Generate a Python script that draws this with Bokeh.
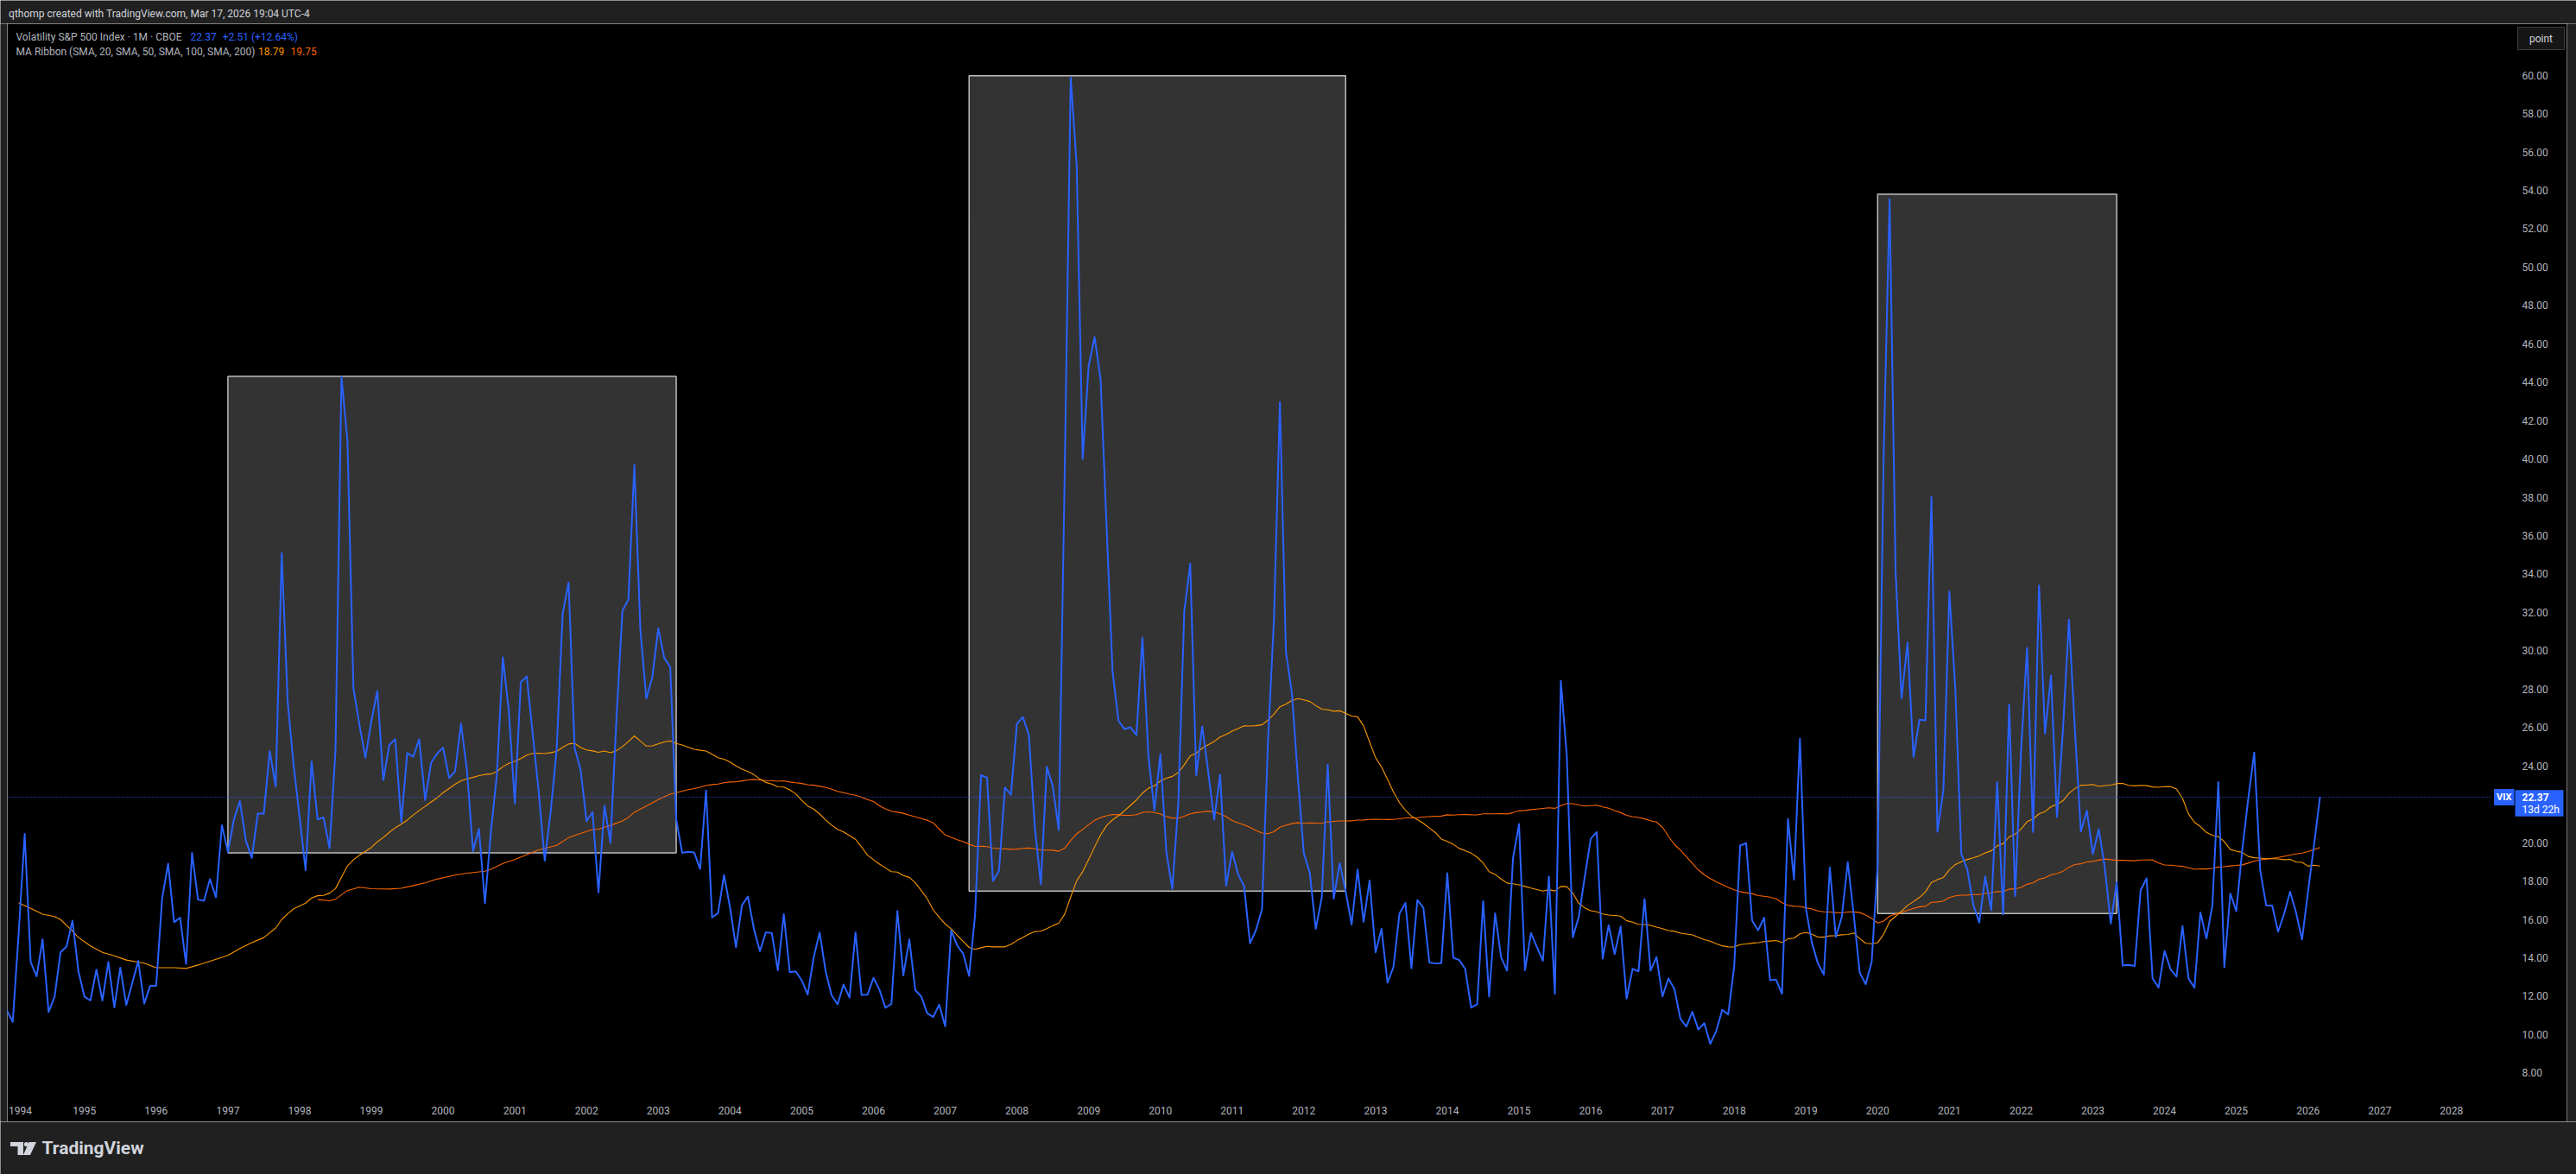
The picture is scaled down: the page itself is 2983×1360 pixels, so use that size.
import pandas as pd
from bokeh.plotting import figure
from bokeh.layouts import column, row
from bokeh.models import Range1d, Label
from bokeh.core.properties import value
from bokeh.embed import file_html
from bokeh.resources import INLINE

# ---------------- data (monthly closes of CBOE:VIX) ----------------
series_start = "1993-12"
vix_1993 = [11.27]
vix_1994 = [10.66, 15.30, 20.45, 13.78, 13.03, 14.96, 11.17, 11.97, 14.28, 14.58, 15.93, 13.28]
vix_1995 = [11.97, 11.77, 13.38, 11.77, 13.78, 11.41, 13.48, 11.53, 12.68, 13.84, 11.61, 12.54]
vix_1996 = [12.54, 17.10, 18.90, 15.85, 16.09, 13.68, 19.46, 17.03, 16.97, 18.10, 17.15, 20.91]
vix_1997 = [19.50, 21.21, 22.16, 20.11, 19.20, 21.51, 21.51, 24.77, 22.92, 35.09, 27.34, 24.01]
vix_1998 = [21.31, 18.56, 24.23, 21.21, 21.31, 19.70, 24.83, 44.28, 40.95, 28.05, 26.14, 24.42]
vix_1999 = [26.34, 27.90, 23.26, 25.09, 25.39, 21.07, 24.67, 24.47, 25.39, 22.22, 24.17, 24.64]
vix_2000 = [24.95, 23.37, 23.70, 26.20, 23.74, 19.56, 20.72, 16.85, 20.57, 23.54, 29.66, 26.85]
vix_2001 = [22.03, 28.36, 28.66, 25.64, 22.63, 19.06, 21.63, 24.84, 31.93, 33.56, 24.94, 23.80]
vix_2002 = [21.12, 21.59, 17.41, 21.93, 19.98, 26.45, 32.07, 32.68, 39.69, 31.11, 27.51, 28.62]
vix_2003 = [31.17, 29.63, 29.15, 21.21, 19.47, 19.52, 19.49, 18.63, 22.72, 16.10, 16.32, 18.31]
vix_2004 = [16.63, 14.55, 16.74, 17.19, 15.50, 14.34, 15.32, 15.29, 13.34, 16.27, 13.24, 13.29]
vix_2005 = [12.82, 12.08, 14.02, 15.31, 13.29, 12.04, 11.57, 12.60, 11.92, 15.32, 12.06, 12.07]
vix_2006 = [12.95, 12.34, 11.39, 11.59, 16.44, 13.08, 14.95, 12.31, 11.98, 11.10, 10.91, 11.56]
vix_2007 = [10.42, 15.42, 14.64, 14.22, 13.05, 16.23, 23.52, 23.38, 18.00, 18.53, 22.87, 22.50]
vix_2008 = [26.20, 26.54, 25.61, 20.79, 17.83, 23.95, 22.94, 20.65, 39.39, 59.89, 55.28, 40.00]
vix_2009 = [44.84, 46.35, 44.14, 36.50, 28.92, 26.35, 25.92, 26.01, 25.61, 30.69, 24.51, 21.68]
vix_2010 = [24.62, 19.50, 17.59, 22.05, 32.07, 34.54, 23.50, 26.05, 23.70, 21.20, 23.54, 17.75]
vix_2011 = [19.53, 18.35, 17.74, 14.75, 15.45, 16.52, 25.25, 31.62, 42.96, 29.96, 27.80, 23.40]
vix_2012 = [19.44, 18.43, 15.50, 17.15, 24.06, 17.08, 18.93, 17.47, 15.73, 18.60, 15.87, 18.02]
vix_2013 = [14.28, 15.51, 12.70, 13.52, 16.30, 16.86, 13.45, 17.01, 16.60, 13.75, 13.70, 13.72]
vix_2014 = [18.41, 14.00, 13.88, 13.41, 11.40, 11.57, 16.95, 11.98, 16.31, 14.03, 13.33, 19.20]
vix_2015 = [20.97, 13.34, 15.29, 14.55, 13.84, 18.23, 12.12, 28.43, 24.50, 15.07, 16.13, 18.21]
vix_2016 = [20.20, 20.55, 13.95, 15.70, 14.19, 15.63, 11.87, 13.42, 13.29, 17.06, 13.33, 14.04]
vix_2017 = [11.99, 12.92, 12.37, 10.82, 10.41, 11.18, 10.26, 10.59, 9.51, 10.18, 11.28, 11.04]
vix_2018 = [13.54, 19.85, 19.97, 15.93, 15.43, 16.09, 12.83, 12.86, 12.12, 21.23, 18.07, 25.42]
vix_2019 = [16.57, 14.78, 13.71, 13.12, 18.71, 15.08, 16.12, 18.98, 16.24, 13.22, 12.62, 13.78]
vix_2020 = [18.84, 40.11, 53.54, 34.15, 27.51, 30.43, 24.46, 26.41, 26.37, 38.02, 20.57, 22.75]
vix_2021 = [33.09, 27.95, 19.40, 18.61, 16.76, 15.83, 18.24, 16.48, 23.14, 16.26, 27.19, 17.22]
vix_2022 = [24.83, 30.15, 20.56, 33.40, 25.69, 28.71, 21.33, 25.87, 31.62, 25.88, 20.58, 21.67]
vix_2023 = [19.40, 20.70, 18.70, 15.78, 17.94, 13.59, 13.63, 13.57, 17.52, 18.14, 12.92, 12.45]
vix_2024 = [14.35, 13.40, 13.01, 15.65, 12.92, 12.44, 16.36, 15.00, 16.73, 23.16, 13.51, 17.35]
vix_2025 = [16.43, 19.63, 22.28, 24.70, 18.57, 16.73, 16.72, 15.36, 16.28, 17.44, 16.35, 14.95]
vix_2026 = [17.44, 19.86, 22.37]

# MA Ribbon warm-up part (before the window fits in the visible history)
sma50_early_month = ["1994-02", "1994-04", "1994-06", "1994-08", "1994-09", "1994-11", "1994-12",
                     "1995-02", "1995-04", "1995-06", "1995-08", "1995-11", "1996-01", "1996-04",
                     "1996-06", "1996-08", "1996-11", "1997-01", "1997-03", "1997-05", "1997-07",
                     "1997-09", "1997-10", "1997-11", "1997-12"]
sma50_early_value = [16.85, 16.57, 16.27, 16.15, 15.99, 15.39, 15.05, 14.62, 14.28, 14.10, 13.88,
                     13.72, 13.48, 13.48, 13.44, 13.62, 13.92, 14.12, 14.48, 14.79, 15.05, 15.55,
                     15.99, 16.29, 16.55]
sma100_early_month = ["1998-04", "1998-06", "1998-07", "1998-09", "1998-11", "1999-01", "1999-04",
                      "1999-06", "1999-08", "1999-10", "1999-12", "2000-03", "2000-05", "2000-08",
                      "2000-09", "2000-11", "2001-01", "2001-03", "2001-05", "2001-08", "2001-10",
                      "2001-12", "2002-02"]
sma100_early_value = [17.03, 16.97, 17.05, 17.50, 17.68, 17.60, 17.58, 17.62, 17.76, 17.90, 18.10,
                      18.31, 18.41, 18.51, 18.61, 18.91, 19.12, 19.38, 19.62, 19.86, 20.26, 20.48,
                      20.68]

# user-drawn rectangles
box_start = ["1997-01", "2007-05", "2020-01"]
box_end = ["2003-04", "2012-08", "2023-05"]
box_low = [19.47, 17.47, 16.30]
box_high = [44.30, 59.98, 53.80]

# axis ticks
year_ticks = list(range(1994, 2029))
price_ticks = list(range(8, 61, 2))

# texts
header_text = "qthomp created with TradingView.com, Mar 17, 2026 19:04 UTC-4"
legend_symbol = "Volatility S&P 500 Index · 1M · CBOE"
legend_last = "22.37"
legend_change = "+2.51 (+12.64%)"
ribbon_title = "MA Ribbon (SMA, 20, SMA, 50, SMA, 100, SMA, 200)"
ribbon_values = ["18.79", "19.75"]
ticker_tag = "VIX"
countdown = "13d 22h"
scale_button = "point"
brand = "TradingView"

# ---------------- helpers ----------------
def month_index(ym):
    y, m = ym.split("-")
    return 12 * (int(y) - 1994) + int(m) - 1

vix_close = (vix_1993 + vix_1994 + vix_1995 + vix_1996 + vix_1997 + vix_1998 + vix_1999 +
             vix_2000 + vix_2001 + vix_2002 + vix_2003 + vix_2004 + vix_2005 + vix_2006 +
             vix_2007 + vix_2008 + vix_2009 + vix_2010 + vix_2011 + vix_2012 + vix_2013 +
             vix_2014 + vix_2015 + vix_2016 + vix_2017 + vix_2018 + vix_2019 + vix_2020 +
             vix_2021 + vix_2022 + vix_2023 + vix_2024 + vix_2025 + vix_2026)
m0 = month_index(series_start)
vix_month = list(range(m0, m0 + len(vix_close)))

closes = pd.Series(vix_close, index=vix_month)
sma50_calc = closes.rolling(50).mean().dropna()
sma100_calc = closes.rolling(100).mean().dropna()
sma50_x = [month_index(s) for s in sma50_early_month] + sma50_calc.index.tolist()
sma50_y = sma50_early_value + sma50_calc.tolist()
sma100_x = [month_index(s) for s in sma100_early_month] + sma100_calc.index.tolist()
sma100_y = sma100_early_value + sma100_calc.tolist()

# page geometry (pixels)
PAGE_W, PAGE_H = 2983, 1360
HEADER_H = 27
PANE_L, PANE_R = 8, 2972          # black pane (plot + price scale)
PANE_B = 1299                     # bottom of time scale
MAIN_H = PANE_B - HEADER_H
FOOTER_H = PAGE_H - PANE_B
TIME_LABEL_Y = 1286               # page y of the year labels
PX_MONTH = 6.9217                 # px per month
X_JAN94 = 14.24                   # page x of Jan 1994
PX_UNIT = 22.223                  # px per VIX point
Y_60 = 86.7                       # page y of 60.00
LABEL_HALF_W = 14                 # half width of a year label, px

def mx(px):
    return (px - X_JAN94) / PX_MONTH

def vy(py):
    return 60 - (py - Y_60) / PX_UNIT

x_lo, x_hi = mx(PANE_L), mx(PANE_R)
y_lo, y_hi = vy(PANE_B), vy(HEADER_H)

FONT = "Roboto"
GREY_TXT = "#b2b5be"
BLUE = "#2962ff"
MA50_C = "#fb9800"
MA100_C = "#fb6500"
PANEL_BG = "#202020"

def panel(w, h):
    f = figure(width=w, height=h, x_range=Range1d(0, w), y_range=Range1d(0, h),
               output_backend="svg", toolbar_location=None, x_axis_location=None,
               y_axis_location=None, min_border=0, background_fill_color=PANEL_BG,
               border_fill_color=PANEL_BG, outline_line_color=None)
    f.grid.visible = False
    return f

# ---------------- header ----------------
hdr = panel(PAGE_W, HEADER_H)
hdr.add_layout(Label(x=9.6, y=HEADER_H - 15, text=header_text, text_font=FONT,
                     text_font_size="12px", text_color="#d1d4dc", text_baseline="middle"))

# side strips of the pane frame
left_strip = panel(PANE_L, MAIN_H)
right_strip = panel(PAGE_W - PANE_R, MAIN_H)
for strip in (left_strip, right_strip):
    strip.quad(left=[0], right=[strip.width], bottom=[0], top=[MAIN_H],
               fill_color=PANEL_BG, line_color=None)

# ---------------- main pane (plot area + price scale + time scale) ----------------
p = figure(width=PANE_R - PANE_L, height=MAIN_H, x_range=Range1d(x_lo, x_hi),
           y_range=Range1d(y_lo, y_hi), output_backend="svg", toolbar_location=None,
           x_axis_location=None, y_axis_location=None, min_border=0,
           background_fill_color="#000000", border_fill_color="#000000", outline_line_color=None)
p.grid.visible = False

# rectangles
p.quad(left=[month_index(s) for s in box_start], right=[month_index(s) for s in box_end],
       bottom=box_low, top=box_high, fill_color="#333333", fill_alpha=1.0,
       line_color="#bdbdbd", line_width=1.5)

# MA ribbon (SMA 50 / SMA 100) and the VIX close line
p.line(sma100_x, sma100_y, line_color=MA100_C, line_width=1.1, line_join="round")
p.line(sma50_x, sma50_y, line_color=MA50_C, line_width=1.1, line_join="round")
p.line(vix_month, vix_close, line_color=BLUE, line_width=2, line_join="round")

last = vix_close[-1]
p.segment(x0=[x_lo], x1=[mx(2885)], y0=[last], y1=[last], line_color=BLUE, line_width=1,
          line_dash="1 2")

# time scale labels (Januaries); a label that would cross the pane edge is kept inside it
min_center = x_lo + (LABEL_HALF_W + 1) / PX_MONTH
year_x = [max(month_index(f"{y}-01"), min_center) for y in year_ticks]
p.text(x=year_x, y=[vy(TIME_LABEL_Y)] * len(year_ticks),
       text=[str(y) for y in year_ticks], text_font=value(FONT), text_font_size="12px",
       text_color=GREY_TXT, text_align="center", text_baseline="middle")

# price scale labels (hidden where the last-price tag covers them)
TAG_HALF = 0.75
shown = [t for t in price_ticks if abs(t - last) > TAG_HALF]
p.text(x=[mx(2920)] * len(shown), y=shown, text=[f"{t:.2f}" for t in shown],
       text_font=value(FONT), text_font_size="12px", text_color=GREY_TXT,
       text_align="left", text_baseline="middle")

# legend
row1, row2 = vy(42.3), vy(59.3)
for x, y, txt, col in ((18, row1, legend_symbol, GREY_TXT), (220, row1, legend_last, BLUE),
                       (257.2, row1, legend_change, BLUE), (18, row2, ribbon_title, GREY_TXT),
                       (298.5, row2, ribbon_values[0], MA50_C), (336, row2, ribbon_values[1], MA100_C)):
    p.add_layout(Label(x=mx(x), y=y, text=txt, text_font=FONT, text_font_size="12px",
                       text_color=col, text_baseline="middle"))

# last-price tags
p.add_layout(Label(x=mx(2911), y=last, text=ticker_tag, text_align="right",
                   text_baseline="middle", text_font=FONT, text_font_size="11px",
                   text_font_style="bold", text_color="#ffffff", background_fill_color=BLUE,
                   padding=3))
p.quad(left=[mx(2912)], right=[mx(2968)], top=[last + 8.3 / PX_UNIT],
       bottom=[last - 22.4 / PX_UNIT], fill_color=BLUE, line_color=None)
p.text(x=[mx(2920)], y=[last], text=[f"{last:.2f}"], text_font=value(FONT),
       text_font_size="12px", text_font_style="bold", text_color="#ffffff",
       text_align="left", text_baseline="middle")
p.text(x=[mx(2920)], y=[last - 15 / PX_UNIT], text=[countdown], text_font=value(FONT),
       text_font_size="12px", text_color="#ffffff", text_align="left", text_baseline="middle")

# price-scale mode button
p.quad(left=[mx(2915)], right=[mx(2969)], top=[vy(31)], bottom=[vy(57)],
       fill_color="#161616", line_color="#3c3c3c", line_width=1)
p.text(x=[mx(2942)], y=[vy(44)], text=[scale_button], text_font=value(FONT),
       text_font_size="12px", text_color="#d1d4dc", text_align="center",
       text_baseline="middle")

# ---------------- footer ----------------
ftr = panel(PAGE_W, FOOTER_H)

def fy(py):
    return PAGE_H - py

LOGO = "#d1d4dc"
ftr.patches(xs=[[11.5, 26.5, 26.5, 20, 20, 11.5],
                [33, 41.5, 34.5, 26.5]],
            ys=[[fy(1322.5), fy(1322.5), fy(1337.5), fy(1337.5), fy(1327.5), fy(1327.5)],
                [fy(1322.5), fy(1322.5), fy(1337.5), fy(1337.5)]],
            fill_color=LOGO, line_color=None)
ftr.circle(x=[30], y=[fy(1325)], radius=2.6, fill_color=LOGO, line_color=None)
ftr.add_layout(Label(x=48, y=fy(1329.5), text=brand, text_font=FONT, text_font_size="21px",
                     text_font_style="bold", text_color=LOGO, text_baseline="middle"))

page = column(hdr, row(left_strip, p, right_strip, spacing=0), ftr, spacing=0)
open("out.html", "w").write(file_html(page, INLINE))
